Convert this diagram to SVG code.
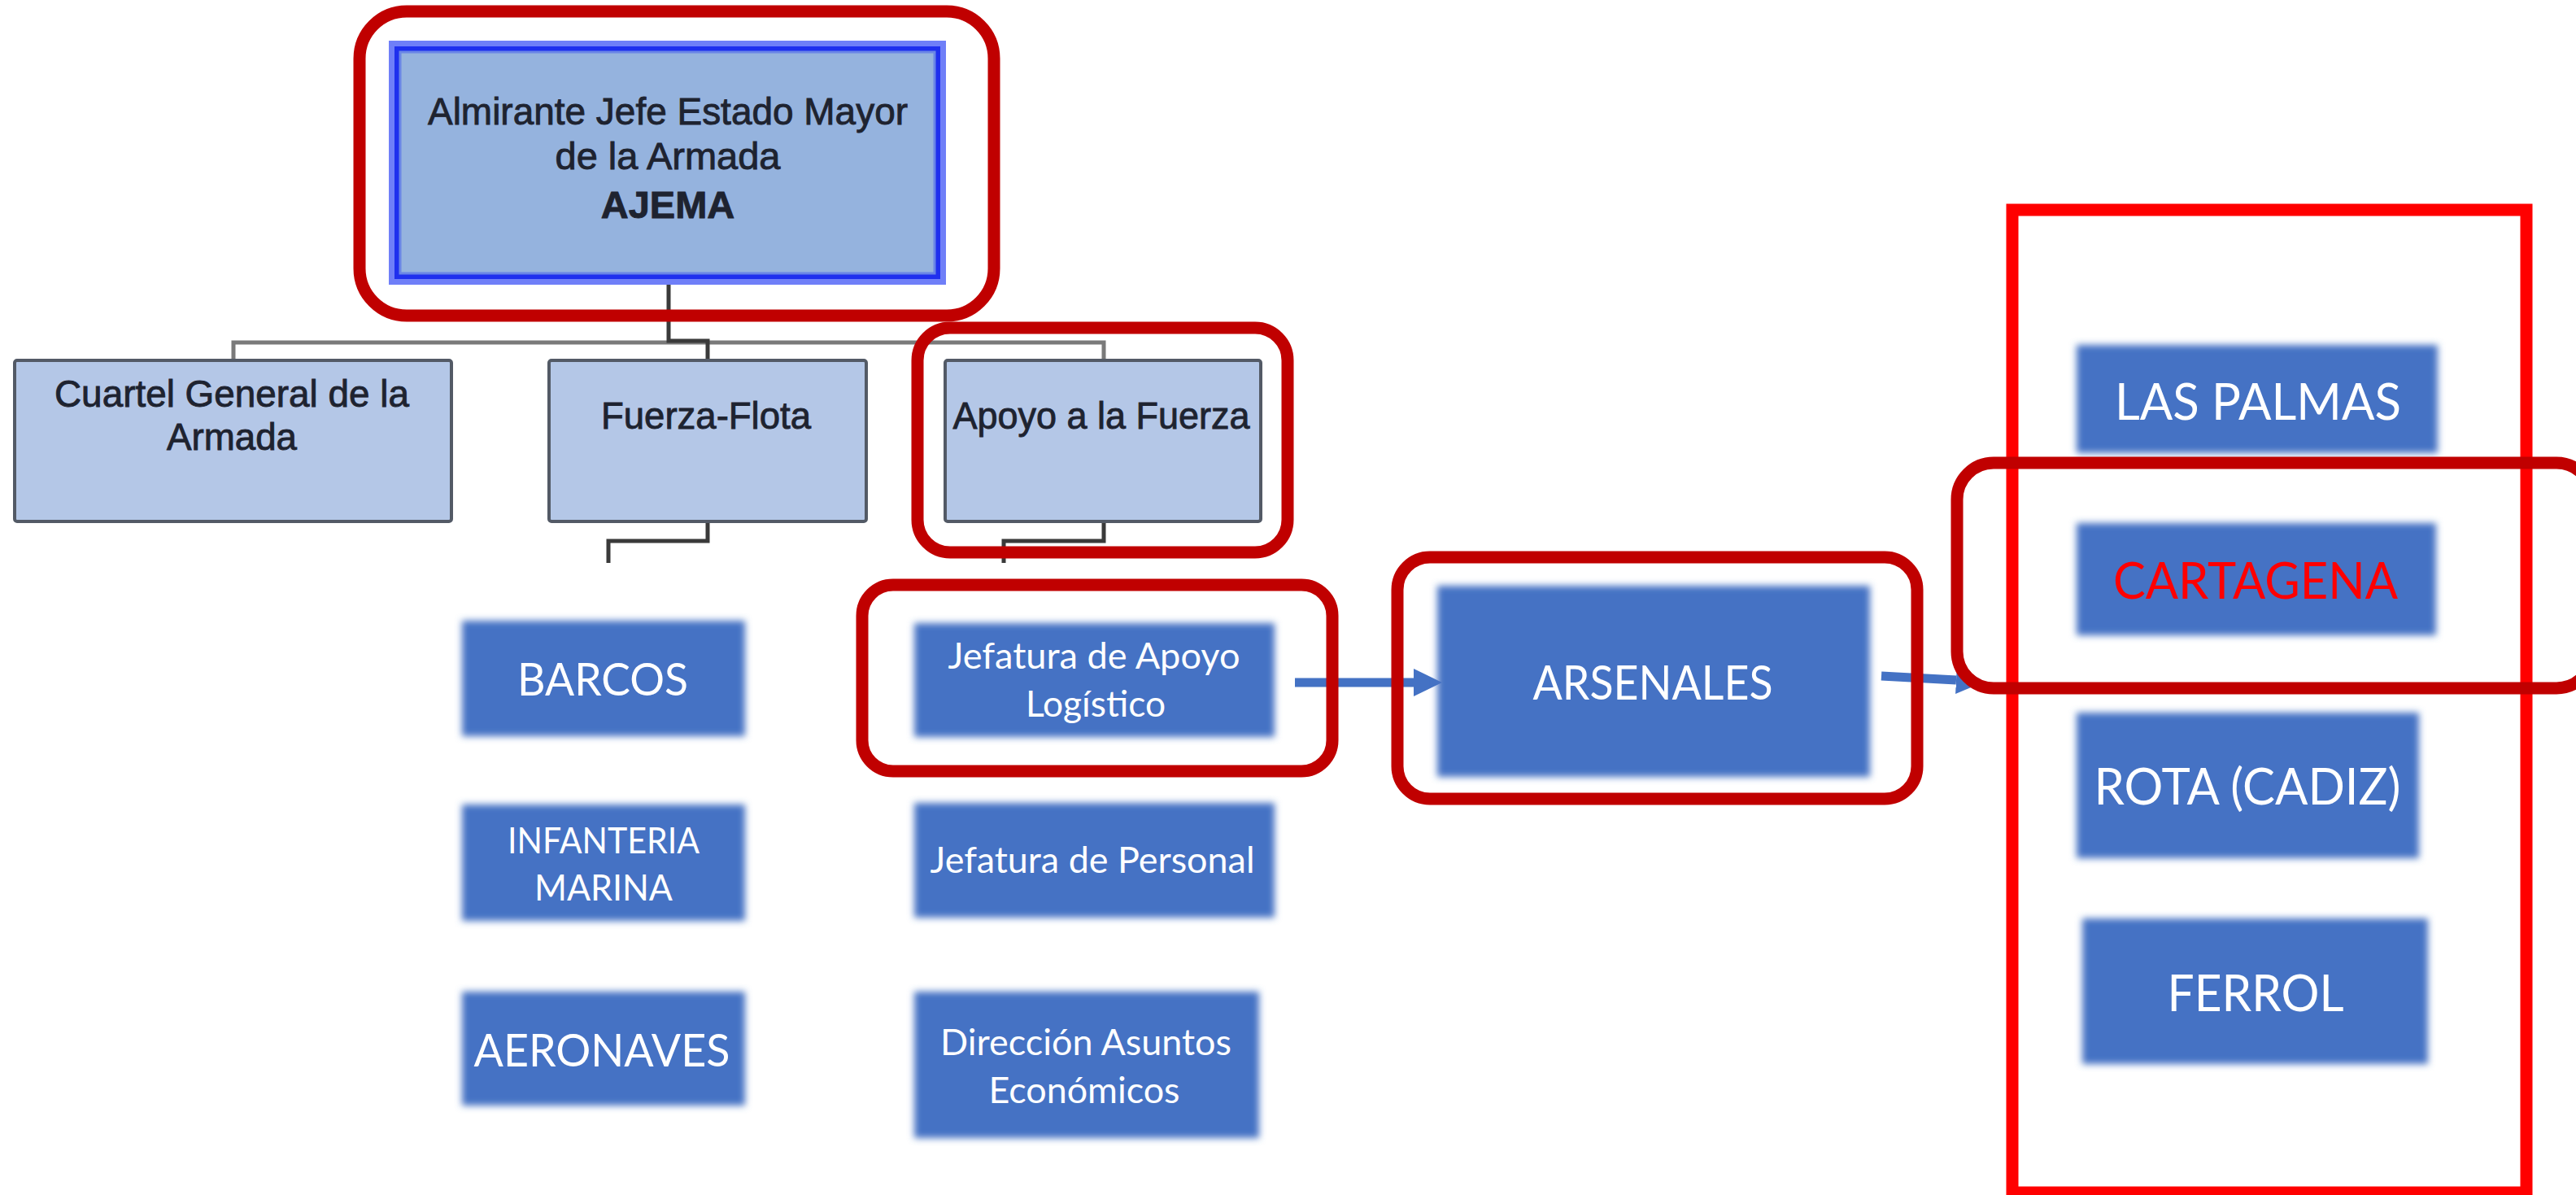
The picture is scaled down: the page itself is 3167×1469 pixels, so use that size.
<svg xmlns="http://www.w3.org/2000/svg" width="3167" height="1469" viewBox="0 0 3167 1469">
<style>
.hl{fill:none;stroke:#c00000;stroke-width:15}
.frame{fill:none;stroke:#ff0000;stroke-width:15}
.blue{fill:#4472c4;filter:url(#soft)}
.wt{font-family:Lato,"Open Sans","Liberation Sans",sans-serif;fill:#ffffff;text-anchor:middle}
.gbox{fill:#b4c7e7;stroke:#535a66;stroke-width:4}
.at{font-family:"Liberation Sans",Arial,sans-serif;fill:#1e2330;stroke:#1e2330;stroke-width:0.9;text-anchor:middle;font-size:47px}
.org{fill:none;stroke:#3a3a3a;stroke-width:5}
.orgl{fill:none;stroke:#7a7a7a;stroke-width:5}
.arr{fill:none;stroke:#4472c4;stroke-width:11}
</style>
<defs>
<filter id="soft" x="-10%" y="-15%" width="120%" height="130%"><feGaussianBlur stdDeviation="4"/></filter>
<marker id="ah" viewBox="0 0 35 34" markerWidth="35" markerHeight="34" refX="0" refY="17" markerUnits="userSpaceOnUse" orient="auto"><path d="M0,0 L35,17 L0,34 Z" fill="#4472c4"/></marker>
</defs>
<rect width="3167" height="1469" fill="#ffffff"/>

<g id="connectors">
<path class="orgl" d="M287,443 V421 H1357 V443"/>
<path class="org" d="M822,350 V419 H870 V443"/>
<path class="org" d="M870,642 V665 H748 V692"/>
<path class="org" d="M1357,642 V665 H1234 V692"/>
<line class="arr" x1="1592" y1="839" x2="1738" y2="839" marker-end="url(#ah)"/>
<line class="arr" x1="2313" y1="831" x2="2405" y2="836" marker-end="url(#ah)"/>
</g>

<g id="ajema">
<rect x="478" y="50" width="685" height="300" fill="#6f7ff8"/>
<rect x="485" y="57" width="671" height="286" fill="#1f30ee"/>
<rect x="492" y="64" width="657" height="272" fill="#95b3de" stroke="#6a86e6" stroke-width="3"/>
<text class="at" x="821" y="153" font-size="46" textLength="590" lengthAdjust="spacingAndGlyphs">Almirante Jefe Estado Mayor</text>
<text class="at" x="821" y="208" font-size="46">de la Armada</text>
<text class="at" x="821" y="268" font-size="49" font-weight="bold" fill="#111111">AJEMA</text>
</g>

<g id="cuartel">
<rect class="gbox" x="18" y="443" width="537" height="198" rx="3"/>
<text class="at" x="285" y="500" textLength="436" lengthAdjust="spacingAndGlyphs">Cuartel General de la</text>
<text class="at" x="285" y="553" textLength="160" lengthAdjust="spacingAndGlyphs">Armada</text>
</g>

<g id="fuerza-flota">
<rect class="gbox" x="675" y="443" width="390" height="198" rx="3"/>
<text class="at" x="868" y="527" textLength="258" lengthAdjust="spacingAndGlyphs">Fuerza-Flota</text>
</g>

<g id="apoyo-fuerza">
<rect class="gbox" x="1162" y="443" width="388" height="198" rx="3"/>
<text class="at" x="1354" y="527" textLength="365" lengthAdjust="spacingAndGlyphs">Apoyo a la Fuerza</text>
</g>

<g id="barcos">
<rect class="blue" x="568" y="763" width="348" height="142"/>
<text class="wt" x="741" y="855" font-size="57" textLength="210" lengthAdjust="spacingAndGlyphs">BARCOS</text>
</g>

<g id="infanteria">
<rect class="blue" x="568" y="989" width="348" height="143"/>
<text class="wt" x="742" y="1049" font-size="44" textLength="236" lengthAdjust="spacingAndGlyphs">INFANTERIA</text>
<text class="wt" x="742" y="1107" font-size="44" textLength="170" lengthAdjust="spacingAndGlyphs">MARINA</text>
</g>

<g id="aeronaves">
<rect class="blue" x="568" y="1219" width="348" height="140"/>
<text class="wt" x="740" y="1311" font-size="57" textLength="315" lengthAdjust="spacingAndGlyphs">AERONAVES</text>
</g>

<g id="jefatura-apoyo">
<rect class="blue" x="1124" y="766" width="443" height="140"/>
<text class="wt" x="1345" y="822" font-size="45" textLength="359" lengthAdjust="spacingAndGlyphs">Jefatura de Apoyo</text>
<text class="wt" x="1347" y="881" font-size="45" textLength="172" lengthAdjust="spacingAndGlyphs">Logístico</text>
</g>

<g id="jefatura-personal">
<rect class="blue" x="1124" y="987" width="443" height="141"/>
<text class="wt" x="1343" y="1073" font-size="45" textLength="399" lengthAdjust="spacingAndGlyphs">Jefatura de Personal</text>
</g>

<g id="direccion">
<rect class="blue" x="1124" y="1219" width="424" height="180"/>
<text class="wt" x="1335" y="1297" font-size="45" textLength="358" lengthAdjust="spacingAndGlyphs">Dirección Asuntos</text>
<text class="wt" x="1333" y="1356" font-size="45" textLength="235" lengthAdjust="spacingAndGlyphs">Económicos</text>
</g>

<g id="arsenales">
<rect class="blue" x="1767" y="720" width="532" height="235"/>
<text class="wt" x="2032" y="860" font-size="58" textLength="295" lengthAdjust="spacingAndGlyphs">ARSENALES</text>
</g>

<g id="las-palmas">
<rect class="blue" x="2553" y="424" width="444" height="133"/>
<text class="wt" x="2776" y="516" font-size="62" textLength="352" lengthAdjust="spacingAndGlyphs">LAS PALMAS</text>
</g>

<g id="cartagena">
<rect class="blue" x="2553" y="643" width="442" height="138"/>
<text class="wt" x="2773" y="736" font-size="62" fill="#ff0000" style="fill:#ff0000" textLength="350" lengthAdjust="spacingAndGlyphs">CARTAGENA</text>
</g>

<g id="rota">
<rect class="blue" x="2553" y="876" width="421" height="179"/>
<text class="wt" x="2763" y="989" font-size="62" textLength="377" lengthAdjust="spacingAndGlyphs">ROTA (CADIZ)</text>
</g>

<g id="ferrol">
<rect class="blue" x="2560" y="1129" width="425" height="179"/>
<text class="wt" x="2773" y="1243" font-size="62" textLength="217" lengthAdjust="spacingAndGlyphs">FERROL</text>
</g>

<g id="highlights">
<rect class="hl" x="442" y="14" width="780" height="374" rx="58"/>
<rect class="hl" x="1128" y="403" width="455" height="276" rx="40"/>
<rect class="hl" x="1060" y="719" width="578" height="229" rx="38"/>
<rect class="hl" x="1718" y="685" width="639" height="297" rx="40"/>
<rect class="frame" x="2474" y="258" width="632" height="1208"/>
<rect class="hl" x="2406" y="569" width="782" height="277" rx="45"/>
</g>
</svg>
